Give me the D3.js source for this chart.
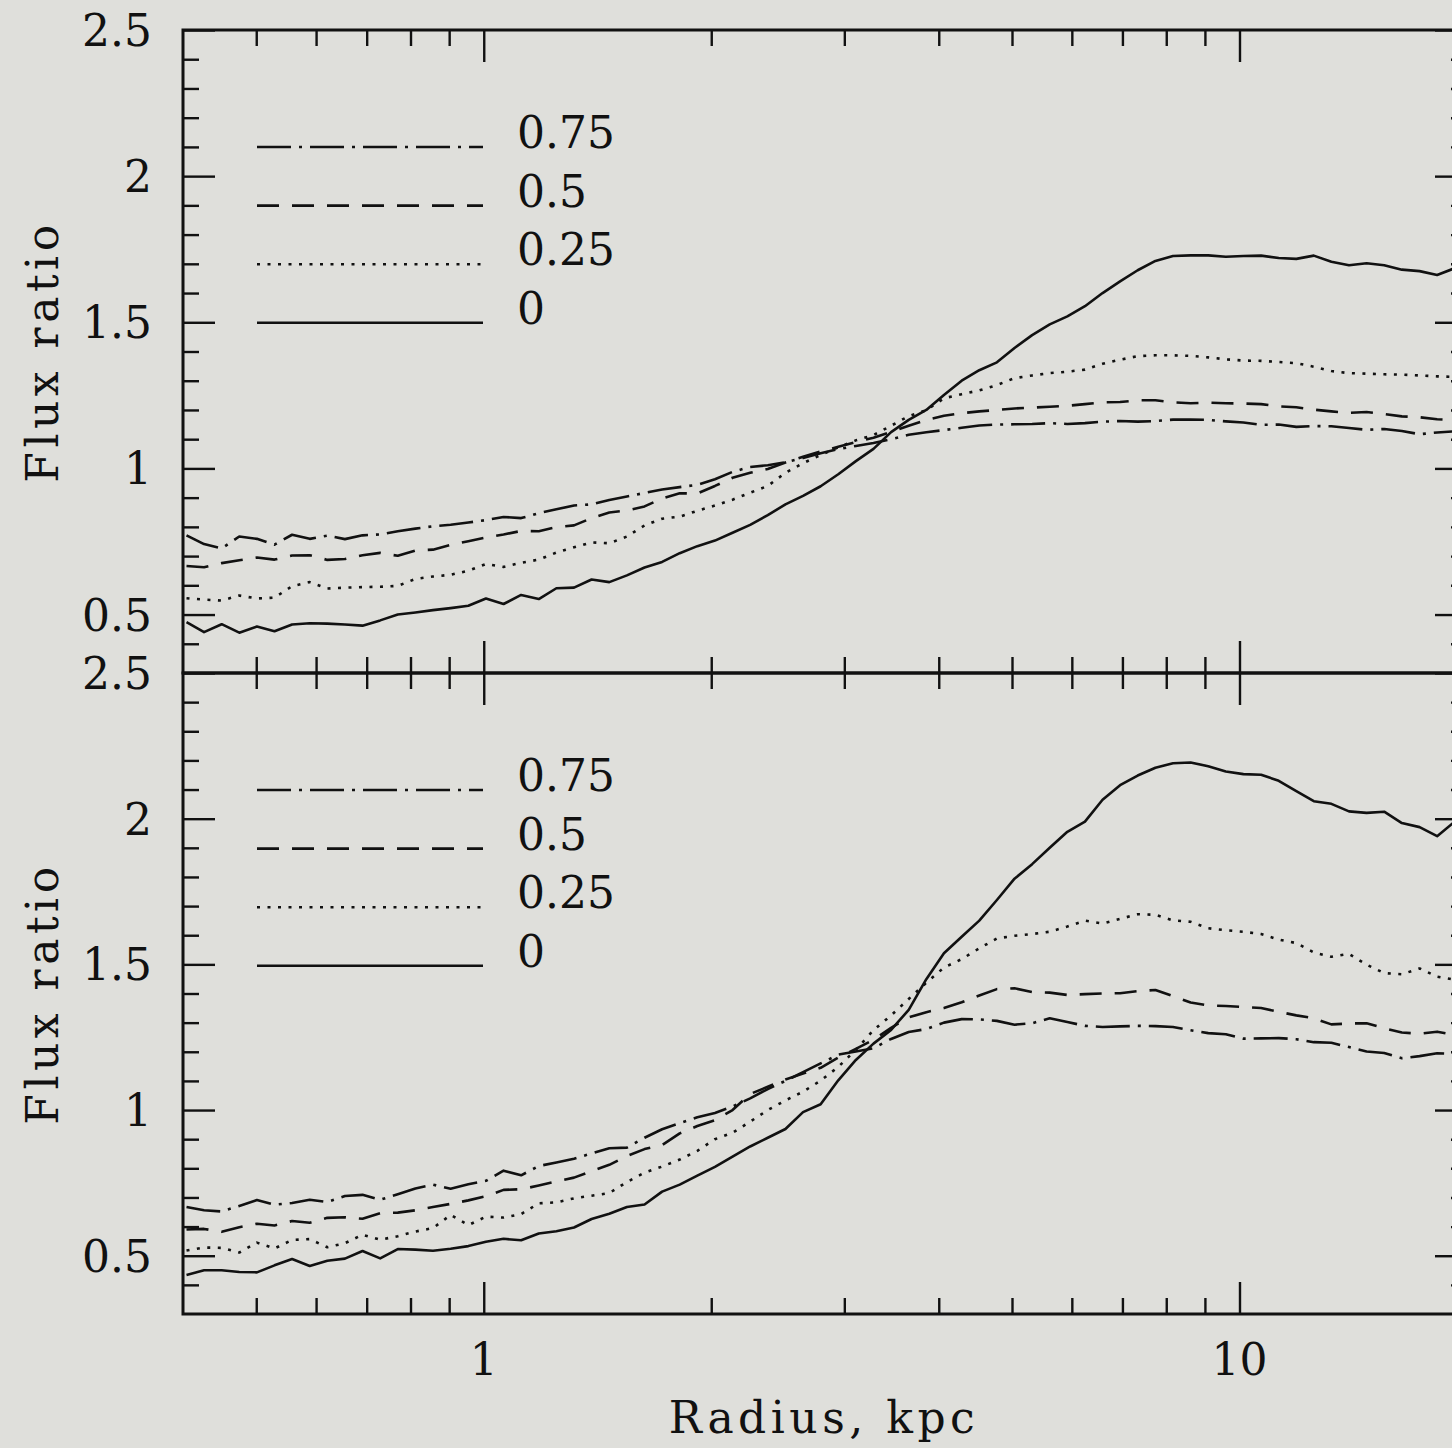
<!DOCTYPE html>
<html>
<head>
<meta charset="utf-8">
<script src="https://cdn.jsdelivr.net/npm/d3@7"></script>
<style>
  html, body { margin: 0; padding: 0; background: #dfdfdb; }
  svg { display: block; }
  text { font-family: "DejaVu Serif", serif; fill: #111; }
</style>
</head>
<body>
<svg id="chart" width="1452" height="1448"></svg>
<script>
// Radii of the sampled annuli (kpc), log-spaced
const radius = [0.4043,0.4265,0.4500,0.4748,0.5010,0.5286,0.5577,0.5885,0.6209,0.6551,
  0.6912,0.7294,0.7696,0.8120,0.8567,0.9040,0.9541,1.0067,1.0622,1.1207,
  1.1825,1.2477,1.3165,1.3890,1.4660,1.5468,1.6321,1.7219,1.8168,1.9170,
  2.0227,2.1341,2.2518,2.3759,2.5072,2.6454,2.7912,2.9451,3.1074,3.2787,
  3.4594,3.6501,3.8513,4.0636,4.2895,4.5259,4.7754,5.0386,5.3163,5.6093,
  5.9185,6.2447,6.5889,6.950,7.333,7.740,8.166,8.616,9.091,9.592,
  10.12,10.68,11.27,11.89,12.54,13.23,13.96,14.73,15.54,16.40,
  17.31,18.26,19.27,20.33];

// Upper panel: flux ratio profiles
const topRatio0 = [0.474,0.440,0.467,0.438,0.459,0.443,0.466,0.470,0.469,0.466,
  0.462,0.480,0.500,0.507,0.515,0.522,0.530,0.555,0.536,0.567,
  0.553,0.590,0.592,0.620,0.611,0.634,0.661,0.680,0.710,0.734,
  0.753,0.780,0.807,0.840,0.877,0.906,0.939,0.980,1.025,1.067,
  1.124,1.166,1.200,1.251,1.300,1.336,1.363,1.412,1.456,1.493,
  1.520,1.555,1.600,1.640,1.678,1.710,1.727,1.729,1.729,1.724,
  1.727,1.728,1.720,1.717,1.728,1.707,1.695,1.702,1.695,1.680,
  1.675,1.662,1.685,1.690];
const topRatio25 = [0.556,0.551,0.548,0.565,0.555,0.558,0.597,0.611,0.589,0.592,
  0.594,0.595,0.598,0.622,0.630,0.636,0.650,0.673,0.663,0.677,
  0.688,0.712,0.730,0.747,0.744,0.767,0.805,0.828,0.835,0.855,
  0.873,0.893,0.917,0.940,0.985,1.018,1.046,1.072,1.096,1.114,
  1.146,1.179,1.199,1.240,1.254,1.267,1.285,1.309,1.318,1.326,
  1.331,1.338,1.358,1.372,1.384,1.387,1.387,1.385,1.380,1.373,
  1.369,1.368,1.364,1.360,1.348,1.333,1.326,1.324,1.322,1.321,
  1.318,1.315,1.313,1.310];
const topRatio50 = [0.666,0.662,0.676,0.686,0.695,0.688,0.702,0.703,0.687,0.690,
  0.703,0.711,0.701,0.719,0.722,0.738,0.751,0.764,0.774,0.786,
  0.785,0.799,0.805,0.830,0.849,0.856,0.870,0.897,0.915,0.914,
  0.940,0.968,0.985,0.998,1.020,1.040,1.058,1.074,1.090,1.105,
  1.125,1.146,1.166,1.180,1.189,1.195,1.200,1.205,1.208,1.211,
  1.214,1.220,1.226,1.227,1.233,1.233,1.226,1.223,1.225,1.223,
  1.222,1.220,1.212,1.209,1.201,1.195,1.190,1.193,1.186,1.178,
  1.175,1.168,1.166,1.165];
const topRatio75 = [0.771,0.741,0.726,0.767,0.759,0.739,0.773,0.759,0.770,0.758,
  0.771,0.774,0.785,0.794,0.802,0.807,0.815,0.823,0.834,0.830,
  0.847,0.860,0.873,0.877,0.892,0.904,0.916,0.928,0.936,0.944,
  0.963,0.988,1.005,1.011,1.021,1.036,1.052,1.066,1.077,1.087,
  1.100,1.115,1.124,1.131,1.139,1.147,1.150,1.151,1.152,1.155,
  1.152,1.155,1.160,1.162,1.160,1.162,1.167,1.167,1.166,1.161,
  1.157,1.149,1.150,1.142,1.145,1.144,1.138,1.132,1.135,1.128,
  1.117,1.123,1.127,1.128];

// Lower panel: flux ratio profiles
const botRatio0 = [0.434,0.450,0.450,0.444,0.443,0.467,0.489,0.465,0.483,0.490,
  0.516,0.491,0.523,0.521,0.517,0.524,0.533,0.548,0.558,0.553,
  0.576,0.584,0.597,0.626,0.644,0.667,0.676,0.720,0.744,0.775,
  0.805,0.840,0.875,0.905,0.935,0.993,1.020,1.102,1.172,1.228,
  1.275,1.344,1.449,1.538,1.595,1.650,1.721,1.794,1.844,1.900,
  1.955,1.990,2.065,2.115,2.148,2.175,2.190,2.193,2.180,2.162,
  2.153,2.151,2.130,2.095,2.060,2.051,2.025,2.020,2.024,1.985,
  1.971,1.940,1.990,2.030];
const botRatio25 = [0.518,0.528,0.527,0.511,0.545,0.525,0.554,0.557,0.529,0.543,
  0.572,0.555,0.567,0.583,0.595,0.640,0.605,0.634,0.631,0.643,
  0.680,0.683,0.697,0.706,0.715,0.753,0.785,0.806,0.830,0.860,
  0.900,0.922,0.960,1.000,1.033,1.063,1.101,1.148,1.207,1.274,
  1.325,1.381,1.437,1.489,1.518,1.555,1.589,1.598,1.604,1.612,
  1.630,1.650,1.640,1.656,1.672,1.670,1.651,1.646,1.624,1.617,
  1.612,1.604,1.585,1.573,1.541,1.526,1.536,1.499,1.470,1.466,
  1.486,1.458,1.447,1.445];
const botRatio50 = [0.590,0.592,0.582,0.598,0.610,0.604,0.619,0.613,0.630,0.632,
  0.627,0.646,0.648,0.656,0.667,0.678,0.690,0.704,0.726,0.728,
  0.741,0.755,0.768,0.790,0.812,0.842,0.866,0.880,0.920,0.945,
  0.965,1.000,1.055,1.080,1.105,1.125,1.145,1.180,1.210,1.241,
  1.282,1.318,1.336,1.350,1.370,1.393,1.415,1.418,1.405,1.403,
  1.395,1.398,1.400,1.401,1.408,1.412,1.391,1.369,1.359,1.357,
  1.354,1.350,1.337,1.325,1.315,1.294,1.297,1.298,1.281,1.266,
  1.262,1.269,1.258,1.255];
const botRatio75 = [0.667,0.656,0.652,0.671,0.691,0.675,0.681,0.692,0.684,0.705,
  0.709,0.692,0.711,0.731,0.744,0.730,0.745,0.757,0.792,0.776,
  0.808,0.820,0.833,0.851,0.869,0.871,0.905,0.934,0.955,0.975,
  0.990,1.012,1.040,1.072,1.100,1.130,1.160,1.190,1.201,1.212,
  1.244,1.268,1.278,1.300,1.312,1.311,1.306,1.293,1.298,1.315,
  1.302,1.289,1.285,1.287,1.289,1.288,1.285,1.274,1.264,1.260,
  1.245,1.246,1.247,1.243,1.233,1.231,1.216,1.201,1.196,1.178,
  1.185,1.195,1.193,1.195];

const legendLabels = ["0.75", "0.5", "0.25", "0"];
const yTickLabels = ["0.5", "1", "1.5", "2", "2.5"];
const xTickLabels = ["1", "10"];

const xMajor = [1, 10];
const xMinor = [0.5, 0.6, 0.7, 0.8, 0.9, 2, 3, 4, 5, 6, 7, 8, 9];
const yMajor = [0.5, 1, 1.5, 2, 2.5];
const yMinor = [0.4, 0.6, 0.7, 0.8, 0.9, 1.1, 1.2, 1.3, 1.4, 1.6, 1.7, 1.8, 1.9, 2.1, 2.2, 2.3, 2.4];

// line styles, in legend order: 0.75, 0.5, 0.25, 0
const dashes = ["34,8,3,8", "22,13", "3,7.5", null];

const svg = d3.select("#chart");
const W = 1452, H = 1448;
const left = 183, right = 1467;
const panels = [
  { top: 30, bottom: 673, series: [topRatio75, topRatio50, topRatio25, topRatio0], legendY: 147 },
  { top: 673, bottom: 1314, series: [botRatio75, botRatio50, botRatio25, botRatio0], legendY: 790 }
];

const x = d3.scaleLog().domain([0.4, 20]).range([left, right]);
const FS = 44;
const majorLen = 32, minorLen = 16;

panels.forEach((p, pi) => {
  const y = d3.scaleLinear().domain([0.3, 2.5]).range([p.bottom, p.top]);
  const g = svg.append("g");

  const clipId = "clip" + pi;
  svg.append("clipPath").attr("id", clipId)
    .append("rect").attr("x", left).attr("y", p.top)
    .attr("width", right - left).attr("height", p.bottom - p.top);

  // data curves
  const line = d3.line().x((d, i) => x(radius[i])).y(d => y(d));
  p.series.forEach((s, si) => {
    g.append("path")
      .datum(s)
      .attr("clip-path", `url(#${clipId})`)
      .attr("d", line)
      .attr("fill", "none")
      .attr("stroke", "#111")
      .attr("stroke-width", 2.6)
      .attr("stroke-linejoin", "round")
      .attr("stroke-dasharray", dashes[si]);
  });

  // axes: ticks point into the frame
  const axes = [
    { gen: d3.axisBottom, pos: `translate(0,${p.top})`, scale: x, sizeSign: 1 },
    { gen: d3.axisTop, pos: `translate(0,${p.bottom})`, scale: x, sizeSign: 1 }
  ];
  axes.forEach(a => {
    [[xMajor, majorLen], [xMinor, minorLen]].forEach(([vals, len]) => {
      g.append("g").attr("transform", a.pos)
        .call(a.gen(x).tickValues(vals).tickSize(len).tickSizeOuter(0).tickFormat(""))
        .call(sel => sel.select(".domain").remove())
        .selectAll("line").attr("stroke", "#111").attr("stroke-width", 2.4);
    });
  });
  [[d3.axisRight, left], [d3.axisLeft, right]].forEach(([gen, xpos]) => {
    [[yMajor, majorLen], [yMinor, minorLen]].forEach(([vals, len]) => {
      g.append("g").attr("transform", `translate(${xpos},0)`)
        .call(gen(y).tickValues(vals).tickSize(len).tickSizeOuter(0).tickFormat(""))
        .call(sel => sel.select(".domain").remove())
        .selectAll("line").attr("stroke", "#111").attr("stroke-width", 2.4);
    });
  });

  // y tick labels
  g.selectAll(".ylab").data(yMajor).enter().append("text")
    .attr("x", 152).attr("y", d => y(d) + 16)
    .attr("text-anchor", "end")
    .attr("font-size", FS)
    .text((d, i) => yTickLabels[i]);

  // frame
  g.append("rect").attr("x", left).attr("y", p.top)
    .attr("width", right - left).attr("height", p.bottom - p.top)
    .attr("fill", "none").attr("stroke", "#111").attr("stroke-width", 3);

  // y axis title
  const yc = (p.top + p.bottom) / 2;
  g.append("text")
    .attr("transform", `translate(58,${yc}) rotate(-90)`)
    .attr("text-anchor", "middle")
    .attr("font-size", FS)
    .attr("letter-spacing", 4.5)
    .text("Flux ratio");

  // legend
  legendLabels.forEach((lab, li) => {
    const ly = p.legendY + li * 58.6;
    g.append("line")
      .attr("x1", 257).attr("x2", li === 2 ? 481 : 483)
      .attr("y1", ly).attr("y2", ly)
      .attr("stroke", "#111").attr("stroke-width", 2.6)
      .attr("stroke-dasharray", dashes[li]);
    g.append("text")
      .attr("x", 517).attr("y", ly + 1)
      .attr("font-size", FS)
      .text(lab);
  });
});

// x tick labels on the lower panel
svg.selectAll(".xlab").data(xMajor).enter().append("text")
  .attr("x", d => x(d)).attr("y", 1375)
  .attr("text-anchor", "middle")
  .attr("font-size", FS)
  .text((d, i) => xTickLabels[i]);

// x axis title
svg.append("text")
  .attr("x", 824).attr("y", 1433)
  .attr("text-anchor", "middle")
  .attr("font-size", FS)
  .attr("letter-spacing", 4.5)
  .text("Radius, kpc");
</script>
</body>
</html>
